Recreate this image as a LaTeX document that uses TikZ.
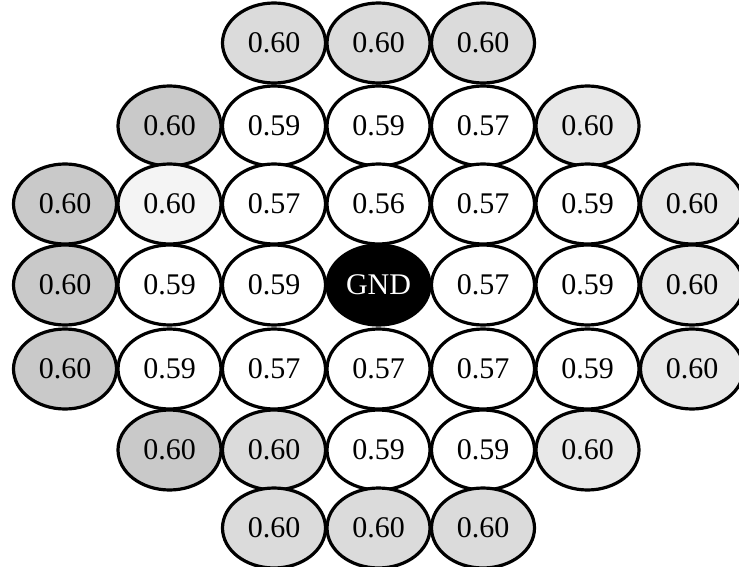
\documentclass[tikz,border=0pt]{standalone}
\usepackage{fontspec}
\setmainfont{Liberation Serif}
\usepackage{tikz}
\usetikzlibrary{shapes.geometric}
\colorlet{celldark}{gray!42}
\colorlet{cellmid}{gray!28}
\colorlet{celllight}{gray!18}
\colorlet{cellfaint}{gray!9}
\tikzstyle{potcell} = [draw, ellipse, line width=3.2pt, minimum width=103pt, minimum height=80pt, inner sep=0pt, font=\fontsize{30}{34}\selectfont]
\tikzstyle{gndcell} = [potcell, fill=black, text=white]
\newcommand{\potrow}[3]{% #1: row no.; #2: y of the row; #3: col/value/fill
  \foreach \c/\v/\f in {#3} {
    \node[potcell, fill=\f] (r#1-\c) at ({65+(\c-1)*104.5}, #2) {\v};
  }
}
\begin{document}
\begin{tikzpicture}[x=1pt, y=-1pt]
        \useasboundingbox (0,0) rectangle (739,567);
        % 
        \potrow{1}{43}{3/0.60/cellmid, 4/0.60/cellmid, 5/0.60/cellmid}
        \potrow{2}{126}{2/0.60/celldark, 3/0.59/white, 4/0.59/white, 5/0.57/white, 6/0.60/celllight}
        \potrow{3}{204}{1/0.60/celldark, 2/0.60/cellfaint, 3/0.57/white, 4/0.56/white, 5/0.57/white, 6/0.59/white, 7/0.60/celllight}
        \potrow{4}{285}{1/0.60/celldark, 2/0.59/white, 3/0.59/white, 5/0.57/white, 6/0.59/white, 7/0.60/celllight}
        \node[gndcell] (r4-4) at ({65+3*104.5}, 285) {GND};
        \potrow{5}{369}{1/0.60/celldark, 2/0.59/white, 3/0.57/white, 4/0.57/white, 5/0.57/white, 6/0.59/white, 7/0.60/celllight}
        \potrow{6}{450}{2/0.60/celldark, 3/0.60/cellmid, 4/0.59/white, 5/0.59/white, 6/0.60/celllight}
        \potrow{7}{528}{3/0.60/cellmid, 4/0.60/cellmid, 5/0.60/cellmid}
      \end{tikzpicture}
\end{document}
